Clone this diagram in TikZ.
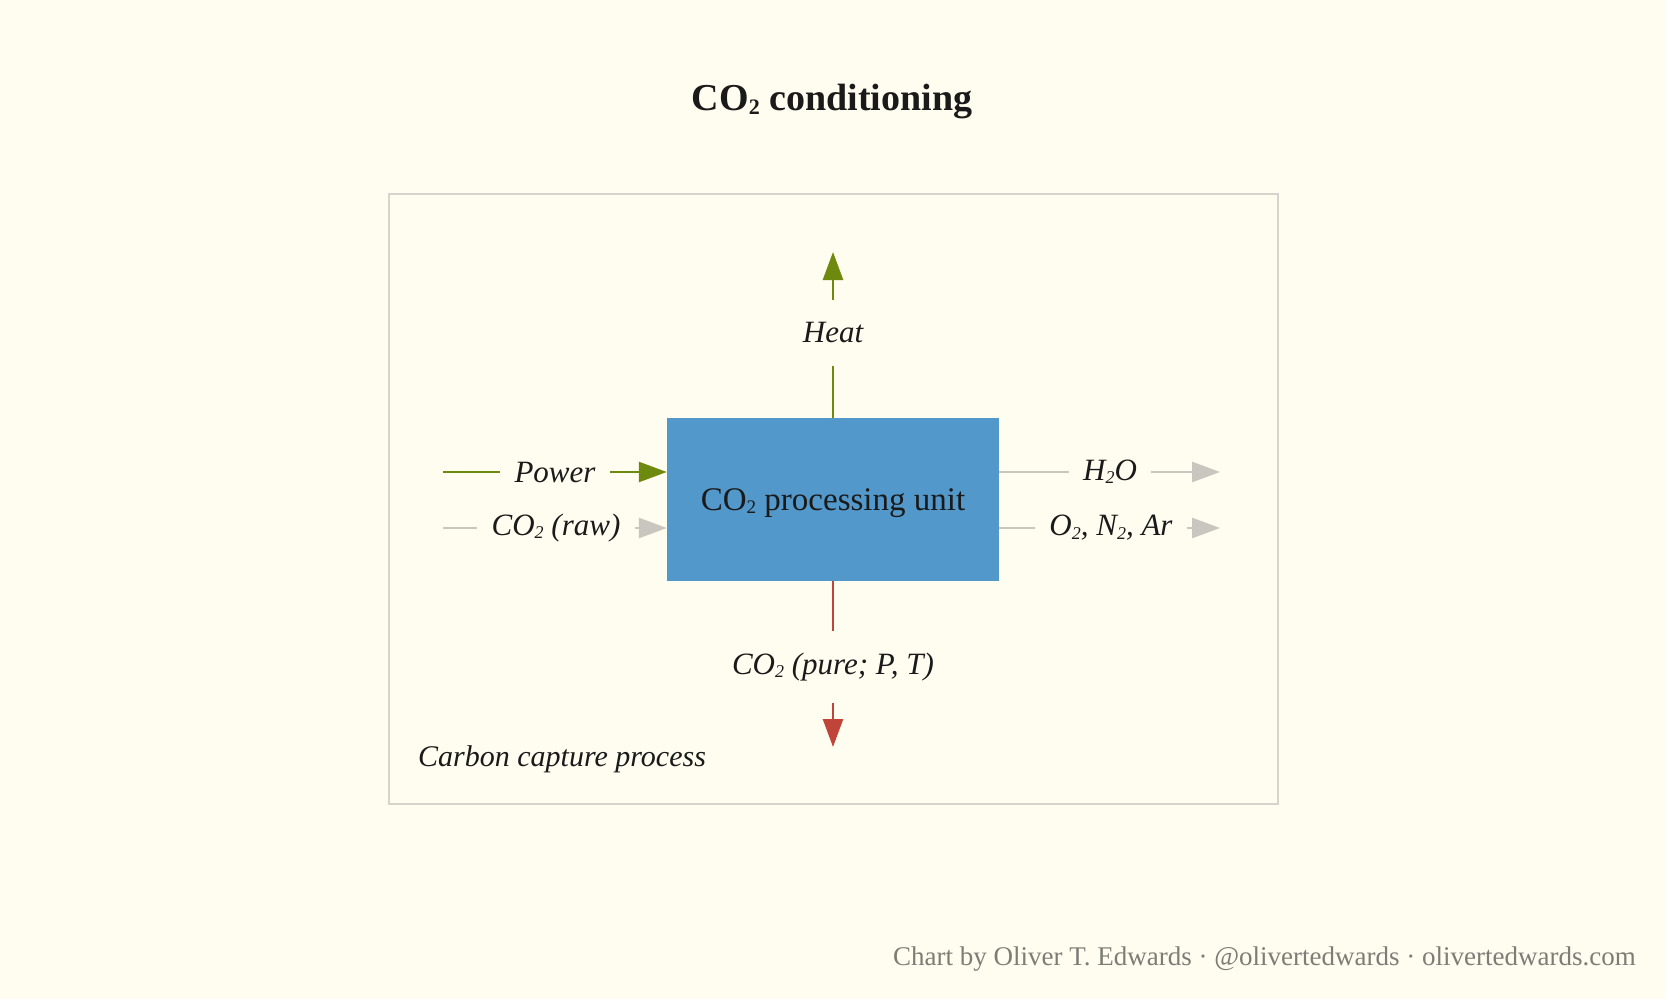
\documentclass[tikz,border=0pt]{standalone}
\usepackage{fontspec}
\setmainfont{Liberation Serif}
\usepackage{xcolor}
\usepackage{graphicx}
\definecolor{Paper}{RGB}{255,253,240}
\definecolor{Frame}{RGB}{214,212,204}
\definecolor{Unit}{RGB}{82,152,202}
\definecolor{Olive}{RGB}{110,138,14}
\definecolor{Rust}{RGB}{192,68,58}
\definecolor{Ash}{RGB}{200,198,191}
\definecolor{Ink}{RGB}{26,26,26}
\definecolor{Credit}{RGB}{125,125,118}
\newcommand{\lowtwo}{\raisebox{-0.22ex}{\scalebox{0.58}{2}}}
\newcommand{\cotwo}{CO\lowtwo}
\usetikzlibrary{arrows.meta}

\tikzset{
	flowlabel/.style={font=\fontsize{31}{35}\selectfont\itshape, text=Ink, inner xsep=14pt, inner ysep=22pt},
	oliveline/.style={draw=Olive, line width=2.6pt},
	ashline/.style={draw=Ash, line width=2.6pt},
	rustline/.style={draw=Rust, line width=2.6pt},
	tip/.style={-{Triangle[length=28pt,width=20pt]}}
}

\begin{document}
\begin{tikzpicture}[x=1pt, y=-1pt]
		
		% Paper
		\fill[Paper] (0,0) rectangle (1666,999);
		\useasboundingbox (0,0) rectangle (1666,999);
		
		% Title
		\node[font=\fontsize{38}{42}\selectfont\bfseries, text=Ink] (title) at (832,102) {\cotwo\ conditioning};
		
		% Frame
		\draw[Frame, line width=2pt] (389,194) rectangle (1278,804);
		\node[anchor=west, inner sep=0pt, font=\fontsize{30}{34}\selectfont\itshape, text=Ink] (process) at (418,759) {Carbon capture process};
		
		% Unit
		\node[fill=Unit, minimum width=332pt, minimum height=163pt, inner sep=0pt, font=\fontsize{33}{38}\selectfont, text=Ink, text depth=0pt] (unit) at (833,499.5) {\cotwo\ processing unit};
		
		% Inputs
		\node[flowlabel] (power) at (555,472) {Power};
		\node[flowlabel] (raw) at (556,528) {\cotwo\ (raw)};
		\coordinate (powerstart) at (443,472);
		\coordinate (rawstart) at (443,528);
		\draw[oliveline] (powerstart) -- (power.west);
		\draw[oliveline, tip] (power.east) -- (power.east -| unit.west);
		\draw[ashline] (rawstart) -- (raw.west);
		\draw[ashline, tip] (raw.east) -- (raw.east -| unit.west);
		
		% Outputs
		\node[flowlabel] (water) at (1110,472) {H\lowtwo O};
		\node[flowlabel] (gases) at (1111,528) {O\lowtwo, N\lowtwo, Ar};
		\coordinate (waterend) at (1220,472);
		\coordinate (gasesend) at (1220,528);
		\draw[ashline] (water.west -| unit.east) -- (water.west);
		\draw[ashline, tip] (water.east) -- (waterend);
		\draw[ashline] (gases.west -| unit.east) -- (gases.west);
		\draw[ashline, tip] (gases.east) -- (gasesend);
		
		% Heat
		\node[flowlabel] (heat) at (833,333) {Heat};
		\coordinate (heatend) at (833,252);
		\draw[oliveline] (unit.north) -- (heat.south);
		\draw[oliveline, tip] (heat.north) -- (heatend);
		
		% Product
		\node[flowlabel] (pure) at (833,667) {\cotwo\ (pure; P, T)};
		\coordinate (pureend) at (833,747);
		\draw[rustline] (unit.south) -- (pure.north);
		\draw[rustline, tip] (pure.south) -- (pureend);
		
		% Credit
		\node[anchor=east, inner sep=0pt, font=\fontsize{27}{30}\selectfont, text=Credit] (credit) at (1636,959) {Chart by Oliver T. Edwards · @olivertedwards · olivertedwards.com};
		
	\end{tikzpicture}
\end{document}
